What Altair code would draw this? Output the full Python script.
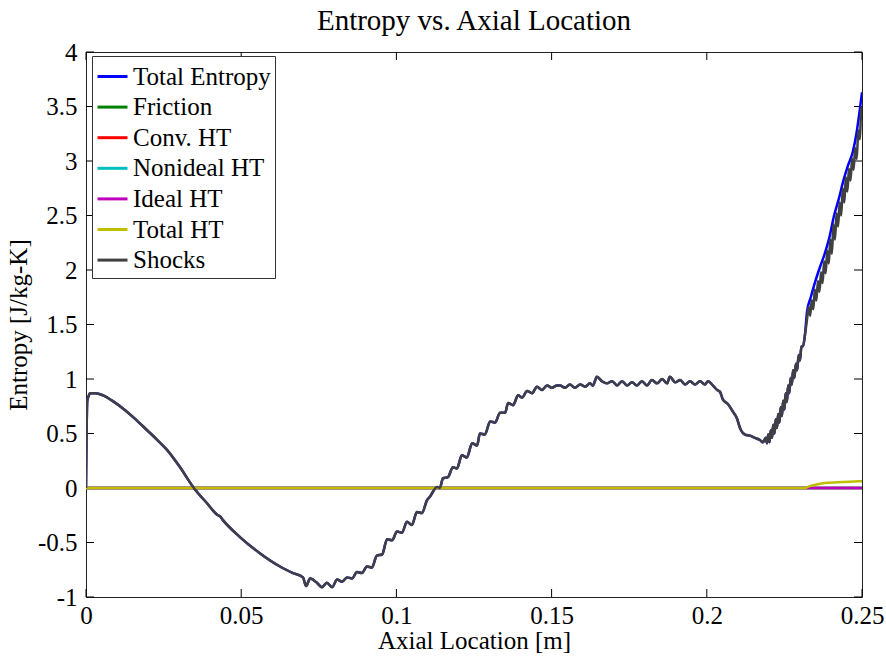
import altair as alt
import pandas as pd

# ---- series names and colours (legend order = draw order) ----
series_names = ["Total Entropy", "Friction", "Conv. HT", "Nonideal HT",
                "Ideal HT", "Total HT", "Shocks"]
series_colors = ["#0000ff", "#008000", "#ff0000", "#00bfbf",
                 "#bf00bf", "#bfbf00", "#404040"]

# ---- shock entropy along the duct ----
shock_x = [
    0.0000, 0.0004, 0.0008, 0.0013, 0.0030, 0.0055, 0.0090, 0.0119, 0.0160, 0.0197,
    0.0230, 0.0261, 0.0303, 0.0345, 0.0390, 0.0425, 0.0432, 0.0440, 0.0496, 0.0561,
    0.0625, 0.0667, 0.0699, 0.0709, 0.0722, 0.0731, 0.0744, 0.0760, 0.0776, 0.0793,
    0.0809, 0.0825, 0.0841, 0.0857, 0.0873, 0.0889, 0.0905, 0.0921, 0.0937, 0.0954,
    0.0970, 0.0986, 0.1002, 0.1018, 0.1034, 0.1050, 0.1066, 0.1082, 0.1099, 0.1108,
    0.1131, 0.1140, 0.1150, 0.1166, 0.1182, 0.1195, 0.1211, 0.1227, 0.1244, 0.1260,
    0.1269, 0.1285, 0.1302, 0.1318, 0.1334, 0.1350, 0.1360, 0.1376, 0.1392, 0.1405,
    0.1421, 0.1437, 0.1453, 0.1469, 0.1485, 0.1501, 0.1517, 0.1527, 0.1543, 0.1559,
    0.1575, 0.1592, 0.1608, 0.1624, 0.1633, 0.1646, 0.1662, 0.1678, 0.1695, 0.1711,
    0.1727, 0.1743, 0.1759, 0.1775, 0.1791, 0.1807, 0.1823, 0.1840, 0.1856, 0.1872,
    0.1881, 0.1898, 0.1914, 0.1930, 0.1946, 0.1962, 0.1978, 0.1994, 0.2004, 0.2020,
    0.2033, 0.2043, 0.2052, 0.2068, 0.2084, 0.2097, 0.2107, 0.2123, 0.2139, 0.2155,
    0.2171, 0.2181, 0.2190, 0.2194, 0.2198, 0.2202, 0.2206, 0.2210, 0.2214, 0.2218,
    0.2222, 0.2226, 0.2230, 0.2234, 0.2238, 0.2242, 0.2246, 0.2250, 0.2254, 0.2258,
    0.2262, 0.2266, 0.2270, 0.2274, 0.2278, 0.2282, 0.2287, 0.2291, 0.2296, 0.2300,
    0.2305, 0.2310, 0.2316, 0.2323, 0.2328, 0.2333, 0.2338, 0.2343, 0.2348, 0.2353,
    0.2358, 0.2363, 0.2368, 0.2373, 0.2378, 0.2383, 0.2388, 0.2393, 0.2398, 0.2403,
    0.2408, 0.2413, 0.2418, 0.2423, 0.2428, 0.2433, 0.2438, 0.2443, 0.2448, 0.2453,
    0.2458, 0.2463, 0.2468, 0.2473, 0.2478, 0.2483, 0.2488, 0.2493, 0.2497, 0.2500,
]
shock_s = [
    0.00, 0.80, 0.84, 0.87, 0.87, 0.85, 0.79, 0.73, 0.63, 0.53,
    0.44, 0.35, 0.19, 0.01, -0.14, -0.25, -0.26, -0.29, -0.45, -0.60,
    -0.72, -0.78, -0.82, -0.90, -0.83, -0.84, -0.87, -0.91, -0.87, -0.91,
    -0.84, -0.86, -0.82, -0.83, -0.77, -0.78, -0.72, -0.73, -0.62, -0.61,
    -0.47, -0.48, -0.40, -0.41, -0.31, -0.34, -0.22, -0.23, -0.11, -0.08,
    0.01, 0.00, 0.09, 0.10, 0.19, 0.18, 0.30, 0.28, 0.41, 0.39,
    0.50, 0.49, 0.61, 0.60, 0.69, 0.69, 0.78, 0.76, 0.85, 0.83,
    0.89, 0.87, 0.93, 0.90, 0.94, 0.92, 0.94, 0.94, 0.92, 0.95,
    0.92, 0.95, 0.93, 0.96, 0.94, 1.02, 0.98, 0.96, 0.98, 0.94,
    0.98, 0.94, 0.97, 0.94, 0.98, 0.94, 0.99, 0.96, 1.00, 0.96,
    1.02, 0.97, 0.99, 0.95, 0.98, 0.95, 0.98, 0.95, 0.98, 0.94,
    0.90, 0.88, 0.81, 0.77, 0.70, 0.64, 0.55, 0.49, 0.48, 0.46,
    0.44, 0.42, 0.46, 0.41, 0.49, 0.42, 0.53, 0.46, 0.58, 0.50,
    0.63, 0.55, 0.68, 0.60, 0.74, 0.66, 0.80, 0.72, 0.87, 0.79,
    0.94, 0.87, 1.01, 0.95, 1.08, 1.01, 1.14, 1.08, 1.22, 1.17,
    1.30, 1.30, 1.40, 1.55, 1.66, 1.58, 1.72, 1.64, 1.82, 1.72,
    1.90, 1.80, 1.98, 1.88, 2.08, 1.97, 2.18, 2.06, 2.28, 2.15,
    2.42, 2.28, 2.52, 2.40, 2.62, 2.50, 2.75, 2.62, 2.85, 2.72,
    2.93, 2.82, 3.02, 2.92, 3.12, 3.02, 3.28, 3.20, 3.45, 3.50,
]

# ---- total entropy where it departs from the shock curve ----
total_tail_x = [0.2323, 0.2335, 0.2350, 0.2365, 0.2380, 0.2395, 0.2410,
                0.2425, 0.2440, 0.2455, 0.2470, 0.2482, 0.2492, 0.2500]
total_tail_s = [1.62, 1.75, 1.90, 2.03, 2.15, 2.30, 2.50,
                2.65, 2.82, 2.96, 3.08, 3.25, 3.45, 3.63]

# ---- heat-transfer contributions ----
total_ht_x = [0.0, 0.2315, 0.2330, 0.2350, 0.2380, 0.2420, 0.2460, 0.2500]
total_ht_s = [0.0, 0.0, 0.015, 0.030, 0.045, 0.052, 0.058, 0.062]
flat_x = [0.0, 0.25]
flat_s = [0.0, 0.0]

# ---- axis ticks ----
x_ticks = [0, 0.05, 0.1, 0.15, 0.2, 0.25]
y_ticks = [-1, -0.5, 0, 0.5, 1, 1.5, 2, 2.5, 3, 3.5, 4]

rows = []
def add(name, xs, ss):
    for i, (a, b) in enumerate(zip(xs, ss)):
        rows.append({"series": name, "x": a, "s": b, "i": i})

total_x = [a for a in shock_x if a < 0.2323] + total_tail_x
total_s = [b for a, b in zip(shock_x, shock_s) if a < 0.2323] + total_tail_s
add("Total Entropy", total_x, total_s)
add("Friction", flat_x, flat_s)
add("Conv. HT", flat_x, flat_s)
add("Nonideal HT", flat_x, flat_s)
add("Ideal HT", flat_x, flat_s)
add("Total HT", total_ht_x, total_ht_s)
add("Shocks", shock_x, shock_s)
df = pd.DataFrame(rows)

W, H = 776, 545
FONT = "Liberation Serif"

xscale = alt.Scale(domain=[0, 0.25], nice=False, zero=False)
yscale = alt.Scale(domain=[-1, 4], nice=False, zero=False)
cscale = alt.Scale(domain=series_names, range=series_colors)

x_enc = alt.X("x:Q", scale=xscale, axis=alt.Axis(
    values=x_ticks, title="Axial Location [m]", labelExpr="datum.value + ''",
    labelPadding=6, titlePadding=0))
y_enc = alt.Y("s:Q", scale=yscale, axis=alt.Axis(
    values=y_ticks, title="Entropy [J/kg-K]", labelExpr="datum.value + ''",
    labelPadding=9, titlePadding=6))

legend = alt.Legend(
    title=None, orient="none", legendX=6, legendY=4,
    symbolType="stroke", symbolSize=900, symbolStrokeWidth=3,
    labelOffset=4, rowPadding=0.6, padding=4,
    fillColor="white", strokeColor="#333333")

layers = []
for k, name in enumerate(series_names):
    layers.append(
        alt.Chart(df).transform_filter(alt.datum.series == name)
        .mark_line(strokeWidth=2.5, clip=True, interpolate="monotone")
        .encode(
            x=x_enc, y=y_enc,
            order="i:Q",
            color=alt.Color("series:N", scale=cscale,
                            legend=legend if k == 0 else None),
        )
    )

# inward tick marks on all four sides
xt = pd.DataFrame({"t": x_ticks})
yt = pd.DataFrame({"t": y_ticks})
tick_x_bottom = alt.Chart(xt).mark_rule(color="black", strokeWidth=1).encode(
    x=alt.X("t:Q", scale=xscale), y=alt.value(H), y2=alt.value(H - 8))
tick_x_top = alt.Chart(xt).mark_rule(color="black", strokeWidth=1).encode(
    x=alt.X("t:Q", scale=xscale), y=alt.value(0), y2=alt.value(8))
tick_y_left = alt.Chart(yt).mark_rule(color="black", strokeWidth=1).encode(
    y=alt.Y("t:Q", scale=yscale), x=alt.value(0), x2=alt.value(8))
tick_y_right = alt.Chart(yt).mark_rule(color="black", strokeWidth=1).encode(
    y=alt.Y("t:Q", scale=yscale), x=alt.value(W), x2=alt.value(W - 8))

chart = alt.layer(
    tick_x_bottom, tick_x_top, tick_y_left, tick_y_right, *layers
).properties(
    width=W, height=H,
    title=alt.Title("Entropy vs. Axial Location", font=FONT, fontSize=29,
                    fontWeight="normal", color="black", offset=4),
    autosize=alt.AutoSizeParams(type="none"),
    padding={"left": 86, "top": 52, "right": 24, "bottom": 59},
).configure(
    background="white", font=FONT
).configure_view(
    stroke="#222222", strokeWidth=1
).configure_axis(
    grid=False, ticks=False, domain=False, labelFlush=False,
    labelFont=FONT, titleFont=FONT, labelFontSize=25, titleFontSize=25,
    labelColor="black", titleColor="black", titleFontWeight="normal",
).configure_legend(
    labelFont=FONT, labelFontSize=25, labelColor="black", labelLimit=400,
)

chart.save("out.html", embed_options={"renderer": "svg", "actions": False})
